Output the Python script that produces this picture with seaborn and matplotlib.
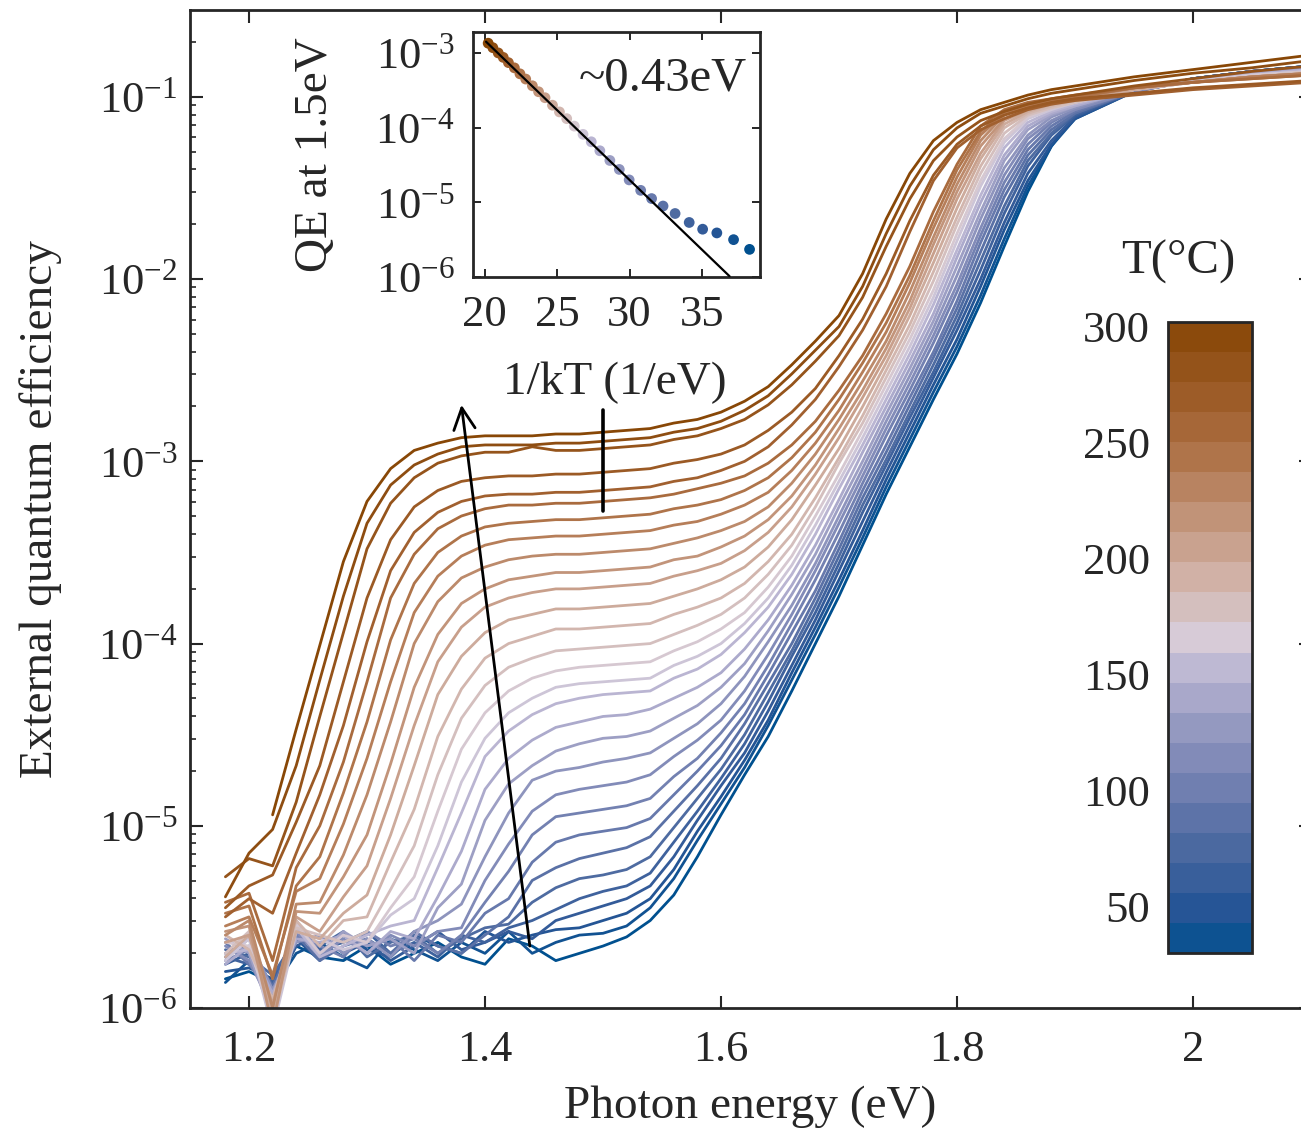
import numpy as np
import pandas as pd
import matplotlib
matplotlib.use("Agg")
import matplotlib.pyplot as plt
from matplotlib.colors import LinearSegmentedColormap, ListedColormap, BoundaryNorm
from matplotlib.cm import ScalarMappable
from matplotlib.ticker import LogLocator, NullLocator, NullFormatter
import seaborn as sns

nan = float("nan")

# ------------------------------------------------------------------ data
energy_ev = [1.18, 1.20, 1.22, 1.24, 1.26, 1.28, 1.30, 1.32, 1.34, 1.36,
             1.38, 1.40, 1.42, 1.44, 1.46, 1.48, 1.50, 1.52, 1.54, 1.56,
             1.58, 1.60, 1.62, 1.64, 1.66, 1.68, 1.70, 1.72, 1.74, 1.76,
             1.78, 1.80, 1.82, 1.84, 1.86, 1.88, 1.90, 1.95, 2.00, 2.05, 2.10]

temperatures_c = [30, 39, 49, 58, 67, 77, 86, 95, 104, 114, 123, 132, 142, 151, 160,
                  170, 179, 188, 197, 207, 216, 225, 235, 244, 253, 263, 272, 281, 291, 300]

# log10(EQE) of each temperature curve, one value per energy above
log_eqe_030 = [-5.84, -5.80, -5.86, -5.66, -5.72, -5.74, -5.66, -5.76, -5.70, -5.64,
               -5.72, -5.76, -5.62, -5.66, -5.74, -5.70, -5.66, -5.61, -5.52, -5.38,
               -5.17, -4.94, -4.72, -4.51, -4.26, -4.00, -3.74, -3.46, -3.18, -2.92,
               -2.66, -2.41, -2.13, -1.82, -1.52, -1.27, -1.10, -0.97, -0.90, -0.86, -0.83]
log_eqe_039 = [-5.86, -5.74, -5.90, -5.70, -5.64, -5.72, -5.78, -5.62, -5.68, -5.74,
               -5.64, -5.70, -5.58, -5.70, -5.64, -5.60, -5.59, -5.55, -5.45, -5.29,
               -5.08, -4.88, -4.68, -4.45, -4.20, -3.95, -3.69, -3.42, -3.14, -2.88,
               -2.62, -2.37, -2.09, -1.78, -1.49, -1.27, -1.12, -0.97, -0.90, -0.86, -0.83]
log_eqe_049 = [-5.80, -5.78, -5.84, -5.62, -5.74, -5.60, -5.68, -5.72, -5.60, -5.66,
               -5.70, -5.58, -5.64, -5.60, -5.57, -5.56, -5.52, -5.48, -5.40, -5.24,
               -5.03, -4.84, -4.64, -4.42, -4.16, -3.91, -3.65, -3.38, -3.10, -2.84,
               -2.58, -2.33, -2.04, -1.73, -1.46, -1.26, -1.12, -0.97, -0.90, -0.86, -0.83]
log_eqe_058 = [-5.76, -5.70, -5.92, -5.66, -5.60, -5.70, -5.64, -5.74, -5.66, -5.58,
               -5.68, -5.64, -5.58, -5.62, -5.52, -5.48, -5.44, -5.40, -5.33, -5.17,
               -4.97, -4.78, -4.60, -4.37, -4.12, -3.87, -3.60, -3.33, -3.06, -2.80,
               -2.54, -2.28, -2.00, -1.69, -1.42, -1.24, -1.11, -0.97, -0.90, -0.86, -0.83]
log_eqe_067 = [-5.72, -5.76, -5.86, -5.58, -5.68, -5.64, -5.58, -5.70, -5.64, -5.72,
               -5.60, -5.64, -5.56, -5.52, -5.46, -5.40, -5.36, -5.33, -5.26, -5.09,
               -4.92, -4.74, -4.55, -4.32, -4.07, -3.83, -3.56, -3.28, -3.02, -2.76,
               -2.51, -2.24, -1.95, -1.64, -1.38, -1.21, -1.10, -0.97, -0.90, -0.86, -0.83]
log_eqe_077 = [-5.68, -5.72, -5.82, -5.62, -5.66, -5.58, -5.72, -5.64, -5.60, -5.70,
               -5.62, -5.56, -5.54, -5.42, -5.34, -5.29, -5.27, -5.24, -5.17, -5.01,
               -4.85, -4.69, -4.50, -4.27, -4.04, -3.79, -3.52, -3.24, -2.99, -2.73,
               -2.47, -2.20, -1.90, -1.60, -1.35, -1.20, -1.09, -0.97, -0.90, -0.86, -0.84]
log_eqe_086 = [-5.70, -5.66, -5.88, -5.60, -5.74, -5.66, -5.62, -5.70, -5.58, -5.66,
               -5.70, -5.60, -5.50, -5.30, -5.23, -5.18, -5.15, -5.12, -5.06, -4.92,
               -4.78, -4.63, -4.44, -4.22, -4.00, -3.75, -3.48, -3.20, -2.95, -2.69,
               -2.43, -2.16, -1.85, -1.55, -1.32, -1.18, -1.09, -0.97, -0.91, -0.86, -0.84]
log_eqe_095 = [-5.64, -5.76, -5.92, -5.56, -5.70, -5.60, -5.66, -5.62, -5.74, -5.60,
               -5.64, -5.48, -5.40, -5.20, -5.09, -5.05, -5.03, -5.01, -4.96, -4.83,
               -4.70, -4.56, -4.39, -4.17, -3.94, -3.71, -3.44, -3.16, -2.91, -2.65,
               -2.40, -2.12, -1.80, -1.51, -1.29, -1.16, -1.08, -0.97, -0.91, -0.86, -0.84]
log_eqe_104 = [-5.74, -5.68, -5.96, -5.60, -5.66, -5.72, -5.58, -5.66, -5.62, -5.70,
               -5.60, -5.42, -5.25, -5.05, -4.95, -4.93, -4.91, -4.89, -4.85, -4.73,
               -4.63, -4.49, -4.33, -4.12, -3.89, -3.65, -3.39, -3.12, -2.86, -2.61,
               -2.35, -2.07, -1.76, -1.47, -1.26, -1.14, -1.07, -0.97, -0.91, -0.86, -0.84]
log_eqe_114 = [-5.66, -5.74, -6.00, -5.58, -5.72, -5.62, -5.70, -5.60, -5.66, -5.58,
               -5.56, -5.30, -5.10, -4.92, -4.83, -4.80, -4.78, -4.76, -4.72, -4.62,
               -4.53, -4.42, -4.26, -4.06, -3.84, -3.60, -3.34, -3.08, -2.82, -2.57,
               -2.31, -2.03, -1.72, -1.43, -1.23, -1.13, -1.07, -0.97, -0.91, -0.87, -0.84]
log_eqe_123 = [-5.72, -5.62, -5.90, -5.64, -5.60, -5.70, -5.62, -5.72, -5.58, -5.52,
               -5.43, -5.17, -4.93, -4.75, -4.70, -4.68, -4.65, -4.63, -4.60, -4.52,
               -4.44, -4.33, -4.18, -3.99, -3.79, -3.56, -3.30, -3.04, -2.78, -2.53,
               -2.27, -1.98, -1.67, -1.39, -1.21, -1.11, -1.06, -0.96, -0.91, -0.87, -0.84]
log_eqe_132 = [-5.62, -5.70, -6.05, -5.52, -5.70, -5.58, -5.66, -5.62, -5.70, -5.45,
               -5.32, -4.97, -4.77, -4.67, -4.59, -4.55, -4.52, -4.51, -4.48, -4.41,
               -4.34, -4.24, -4.11, -3.93, -3.73, -3.51, -3.25, -3.00, -2.74, -2.49,
               -2.23, -1.93, -1.63, -1.35, -1.18, -1.10, -1.05, -0.96, -0.91, -0.87, -0.85]
log_eqe_142 = [-5.76, -5.66, -5.92, -5.62, -5.64, -5.60, -5.70, -5.58, -5.62, -5.39,
               -5.14, -4.80, -4.63, -4.53, -4.46, -4.43, -4.40, -4.39, -4.36, -4.30,
               -4.24, -4.16, -4.03, -3.87, -3.68, -3.46, -3.21, -2.95, -2.70, -2.45,
               -2.19, -1.88, -1.58, -1.32, -1.16, -1.09, -1.05, -0.96, -0.91, -0.87, -0.85]
log_eqe_151 = [-5.70, -5.68, -6.00, -5.56, -5.72, -5.66, -5.60, -5.55, -5.52, -5.23,
               -4.93, -4.62, -4.48, -4.39, -4.33, -4.30, -4.28, -4.27, -4.26, -4.19,
               -4.14, -4.06, -3.94, -3.80, -3.62, -3.40, -3.15, -2.91, -2.66, -2.41,
               -2.14, -1.84, -1.54, -1.28, -1.14, -1.08, -1.04, -0.96, -0.91, -0.88, -0.85]
log_eqe_160 = [-5.74, -5.62, -6.12, -5.58, -5.62, -5.68, -5.64, -5.49, -5.40, -5.11,
               -4.76, -4.52, -4.38, -4.30, -4.24, -4.22, -4.21, -4.20, -4.19, -4.12,
               -4.07, -4.00, -3.89, -3.75, -3.57, -3.35, -3.11, -2.87, -2.62, -2.37,
               -2.10, -1.79, -1.49, -1.25, -1.12, -1.07, -1.03, -0.96, -0.91, -0.88, -0.86]
log_eqe_170 = [-5.64, -5.66, -6.04, -5.54, -5.70, -5.60, -5.64, -5.45, -5.28, -4.92,
               -4.58, -4.38, -4.26, -4.19, -4.15, -4.13, -4.12, -4.11, -4.10, -4.04,
               -3.99, -3.92, -3.83, -3.69, -3.52, -3.30, -3.07, -2.83, -2.58, -2.33,
               -2.06, -1.75, -1.46, -1.23, -1.11, -1.06, -1.03, -0.96, -0.92, -0.88, -0.86]
log_eqe_179 = [-5.70, -5.58, -6.08, -5.56, -5.60, -5.64, -5.58, -5.35, -5.11, -4.72,
               -4.41, -4.23, -4.13, -4.08, -4.04, -4.03, -4.02, -4.01, -4.00, -3.95,
               -3.90, -3.84, -3.75, -3.62, -3.46, -3.25, -3.01, -2.79, -2.54, -2.29,
               -2.01, -1.70, -1.42, -1.20, -1.10, -1.06, -1.03, -0.96, -0.92, -0.89, -0.86]
log_eqe_188 = [-5.60, -5.68, -5.95, -5.52, -5.66, -5.52, -5.50, -5.20, -4.91, -4.51,
               -4.25, -4.08, -4.00, -3.96, -3.92, -3.92, -3.91, -3.90, -3.89, -3.84,
               -3.80, -3.75, -3.67, -3.55, -3.40, -3.20, -2.98, -2.75, -2.50, -2.25,
               -1.96, -1.66, -1.38, -1.17, -1.09, -1.05, -1.02, -0.96, -0.92, -0.89, -0.87]
log_eqe_197 = [-5.72, -5.60, -6.02, -5.58, -5.62, -5.48, -5.38, -5.05, -4.67, -4.28,
               -4.07, -3.94, -3.87, -3.84, -3.81, -3.81, -3.80, -3.79, -3.78, -3.74,
               -3.70, -3.65, -3.58, -3.47, -3.32, -3.13, -2.93, -2.70, -2.46, -2.20,
               -1.91, -1.61, -1.34, -1.15, -1.08, -1.04, -1.02, -0.96, -0.92, -0.89, -0.87]
log_eqe_207 = [-5.64, -5.60, -5.98, -5.50, -5.58, -5.39, -5.22, -4.85, -4.45, -4.10,
               -3.91, -3.80, -3.75, -3.72, -3.70, -3.70, -3.69, -3.68, -3.67, -3.63,
               -3.60, -3.56, -3.49, -3.39, -3.25, -3.07, -2.87, -2.65, -2.42, -2.16,
               -1.86, -1.56, -1.31, -1.13, -1.07, -1.04, -1.01, -0.95, -0.92, -0.89, -0.87]
log_eqe_216 = [-5.58, -5.55, -6.10, -5.47, -5.48, -5.28, -5.05, -4.66, -4.24, -3.95,
               -3.78, -3.70, -3.65, -3.63, -3.61, -3.61, -3.60, -3.59, -3.58, -3.54,
               -3.52, -3.47, -3.41, -3.32, -3.19, -3.02, -2.82, -2.61, -2.38, -2.12,
               -1.81, -1.52, -1.27, -1.12, -1.06, -1.03, -1.01, -0.95, -0.92, -0.89, -0.87]
log_eqe_225 = [-5.60, -5.52, -6.00, -5.43, -5.42, -5.16, -4.83, -4.43, -4.00, -3.77,
               -3.64, -3.58, -3.54, -3.52, -3.51, -3.51, -3.50, -3.49, -3.48, -3.45,
               -3.42, -3.38, -3.33, -3.25, -3.12, -2.96, -2.77, -2.56, -2.34, -2.07,
               -1.77, -1.48, -1.24, -1.10, -1.05, -1.02, -1.00, -0.95, -0.92, -0.89, -0.87]
log_eqe_235 = [-5.55, -5.50, -5.82, -5.36, -5.29, -4.99, -4.63, -4.21, -3.83, -3.63,
               -3.52, -3.46, -3.43, -3.42, -3.41, -3.41, -3.40, -3.39, -3.38, -3.35,
               -3.33, -3.29, -3.24, -3.17, -3.05, -2.90, -2.72, -2.51, -2.29, -2.02,
               -1.72, -1.44, -1.21, -1.09, -1.05, -1.02, -1.00, -0.95, -0.92, -0.89, -0.87]
log_eqe_244 = [-5.48, -5.44, -5.84, -5.33, -5.17, -4.82, -4.43, -3.98, -3.67, -3.50,
               -3.41, -3.36, -3.34, -3.33, -3.32, -3.32, -3.31, -3.30, -3.29, -3.26,
               -3.24, -3.21, -3.16, -3.09, -2.98, -2.84, -2.66, -2.46, -2.24, -1.98,
               -1.68, -1.40, -1.19, -1.08, -1.04, -1.02, -1.00, -0.95, -0.92, -0.90, -0.88]
log_eqe_253 = [-5.42, -5.37, -5.74, -5.23, -5.00, -4.65, -4.21, -3.75, -3.51, -3.37,
               -3.30, -3.26, -3.24, -3.24, -3.23, -3.23, -3.22, -3.21, -3.20, -3.18,
               -3.15, -3.12, -3.08, -3.01, -2.91, -2.78, -2.61, -2.42, -2.19, -1.93,
               -1.63, -1.37, -1.16, -1.07, -1.03, -1.01, -0.99, -0.95, -0.92, -0.90, -0.88]
log_eqe_263 = [-5.50, -5.40, -5.48, -5.15, -4.83, -4.45, -3.99, -3.60, -3.39, -3.28,
               -3.22, -3.19, -3.18, -3.18, -3.17, -3.17, -3.16, -3.15, -3.14, -3.11,
               -3.09, -3.05, -3.00, -2.92, -2.80, -2.66, -2.48, -2.28, -2.04, -1.74,
               -1.46, -1.28, -1.18, -1.12, -1.07, -1.04, -1.02, -0.99, -0.96, -0.94, -0.92]
log_eqe_272 = [-5.45, -5.33, -5.27, -4.98, -4.67, -4.21, -3.75, -3.43, -3.25, -3.16,
               -3.11, -3.09, -3.08, -3.08, -3.07, -3.07, -3.06, -3.05, -3.04, -3.01,
               -2.99, -2.96, -2.91, -2.83, -2.73, -2.60, -2.42, -2.22, -1.97, -1.68,
               -1.43, -1.26, -1.16, -1.10, -1.06, -1.03, -1.01, -0.98, -0.95, -0.93, -0.91]
log_eqe_281 = [-5.28, -5.18, -5.22, -4.87, -4.40, -3.94, -3.48, -3.23, -3.09, -3.01,
               -2.97, -2.95, -2.95, -2.92, -2.94, -2.94, -2.93, -2.92, -2.91, -2.88,
               -2.86, -2.82, -2.77, -2.69, -2.58, -2.45, -2.31, -2.10, -1.82, -1.56,
               -1.35, -1.22, -1.13, -1.08, -1.04, -1.01, -0.99, -0.94, -0.90, -0.86, -0.83]
log_eqe_291 = [-5.39, -5.15, -5.02, -4.67, -4.20, -3.74, -3.34, -3.13, -3.02, -2.96,
               -2.92, -2.91, -2.91, -2.91, -2.90, -2.90, -2.89, -2.88, -2.87, -2.84,
               -2.82, -2.78, -2.72, -2.64, -2.52, -2.39, -2.26, -2.04, -1.75, -1.49,
               -1.29, -1.17, -1.09, -1.05, -1.01, -0.98, -0.96, -0.91, -0.87, -0.84, -0.80]
log_eqe_300 = [nan, nan, -4.94, -4.47, -4.01, -3.55, -3.22, -3.04, -2.94, -2.90,
               -2.87, -2.86, -2.86, -2.86, -2.85, -2.85, -2.84, -2.83, -2.82, -2.79,
               -2.77, -2.73, -2.67, -2.59, -2.47, -2.34, -2.20, -1.97, -1.67, -1.42,
               -1.24, -1.14, -1.07, -1.03, -0.99, -0.96, -0.94, -0.89, -0.85, -0.81, -0.77]

# inset: log10(QE at 1.5 eV) for each temperature (same order as temperatures_c)
inset_log_qe = [-5.63, -5.50, -5.41, -5.36, -5.27, -5.15, -5.05, -4.95, -4.84, -4.70,
                -4.56, -4.44, -4.31, -4.19, -4.09, -3.98, -3.88, -3.79, -3.70, -3.60,
                -3.52, -3.44, -3.35, -3.28, -3.20, -3.13, -3.06, -3.00, -2.93, -2.87]
fit_inv_kt = [20.1, 36.9]
fit_log_qe = [-2.85, -5.99]

x_tick_values = [1.2, 1.4, 1.6, 1.8, 2.0]
x_tick_labels = ["1.2", "1.4", "1.6", "1.8", "2"]
inset_x_ticks = [20, 25, 30, 35]
cbar_ticks = [50, 100, 150, 200, 250, 300]

curves = [log_eqe_030, log_eqe_039, log_eqe_049, log_eqe_058, log_eqe_067, log_eqe_077,
          log_eqe_086, log_eqe_095, log_eqe_104, log_eqe_114, log_eqe_123, log_eqe_132,
          log_eqe_142, log_eqe_151, log_eqe_160, log_eqe_170, log_eqe_179, log_eqe_188,
          log_eqe_197, log_eqe_207, log_eqe_216, log_eqe_225, log_eqe_235, log_eqe_244,
          log_eqe_253, log_eqe_263, log_eqe_272, log_eqe_281, log_eqe_291, log_eqe_300]

# ------------------------------------------------------------------ style
sns.set_style("ticks")
plt.rcParams.update({
    "font.family": ["Liberation Serif", "DejaVu Serif"],
    "mathtext.fontset": "custom",
    "mathtext.rm": "Liberation Serif",
    "mathtext.it": "Liberation Serif:italic",
    "mathtext.bf": "Liberation Serif:bold",
    "axes.unicode_minus": True,
})

T_MIN, T_MAX = 30, 302
cmap = LinearSegmentedColormap.from_list("bluebrown", [
    (0.000, "#00508F"),
    (0.074, "#285596"),
    (0.165, "#4B69A0"),
    (0.257, "#6E7DAF"),
    (0.349, "#9196BE"),
    (0.441, "#B9B4D2"),
    (0.496, "#D7CDDA"),
    (0.588, "#D2B4AA"),
    (0.680, "#C3967D"),
    (0.772, "#B27850"),
    (0.864, "#A05F2D"),
    (1.000, "#874605"),
])

# long-form table
rows = []
for t, vals in zip(temperatures_c, curves):
    for e, v in zip(energy_ev, vals):
        if not np.isnan(v):
            rows.append((e, 10.0 ** v, t))
df = pd.DataFrame(rows, columns=["energy", "eqe", "T"])

inset_df = pd.DataFrame({
    "inv_kT": 11604.5 / (np.array(temperatures_c, dtype=float) + 273.15),
    "qe": 10.0 ** np.array(inset_log_qe),
    "T": temperatures_c,
})

# ------------------------------------------------------------------ figure
W, H = 1301, 1142
fig = plt.figure(figsize=(W / 100, H / 100), dpi=100)
fig.patch.set_facecolor("white")

ax = fig.add_axes([190 / W, (H - 1008) / H, 1121 / W, 998 / H])
ax.set_yscale("log")
sns.lineplot(data=df, x="energy", y="eqe", hue="T", units="T", estimator=None,
             errorbar=None, palette=cmap, hue_norm=(T_MIN, T_MAX), linewidth=2.0,
             legend=False, ax=ax)
ax.set_xlim(1.15, 2.1)
ax.set_ylim(1e-6, 10 ** -0.523)
ax.set_xticks(x_tick_values)
ax.set_xticklabels(x_tick_labels)
ax.yaxis.set_major_locator(LogLocator(base=10, numticks=12))
ax.yaxis.set_minor_locator(LogLocator(base=10, subs=np.arange(2, 10), numticks=12))
ax.yaxis.set_minor_formatter(NullFormatter())
ax.tick_params(which="both", direction="in", top=True, right=True)
ax.tick_params(which="major", length=9, width=1.5, labelsize=32)
ax.tick_params(which="minor", length=4.5, width=1.2)
ax.tick_params(axis="x", which="major", pad=16)
ax.tick_params(axis="y", which="major", pad=9)
for s in ax.spines.values():
    s.set_linewidth(2.0)
ax.set_xlabel("Photon energy (eV)", fontsize=34)
ax.set_ylabel("External quantum efficiency", fontsize=34)
ax.xaxis.set_label_coords(0.5, -0.078)
ax.yaxis.set_label_coords(-0.114, 0.5)

# arrow and 1.5 eV marker
ax.annotate("", xy=(1.380, 10 ** -2.69), xytext=(1.438, 10 ** -5.66),
            arrowprops=dict(arrowstyle="->,head_length=0.7,head_width=0.35",
                            lw=2.0, color="black", shrinkA=0, shrinkB=0,
                            mutation_scale=22))
ax.plot([1.5, 1.5], [10 ** -2.72, 10 ** -3.27], color="black", lw=2.6)

# ------------------------------------------------------------------ inset
ax_in = fig.add_axes([473 / W, (H - 277) / H, 287 / W, 245 / H])
ax_in.set_facecolor("white")
ax_in.set_yscale("log")
sns.scatterplot(data=inset_df, x="inv_kT", y="qe", hue="T", palette=cmap,
                hue_norm=(T_MIN, T_MAX), s=60, linewidth=0, legend=False,
                ax=ax_in, zorder=3)
ax_in.plot(fit_inv_kt, [10 ** v for v in fit_log_qe], color="black", lw=1.6, zorder=4)
ax_in.set_xlim(19.2, 39.0)
ax_in.set_ylim(1e-6, 10 ** -2.72)
ax_in.set_xticks(inset_x_ticks)
ax_in.yaxis.set_major_locator(LogLocator(base=10, numticks=10))
ax_in.yaxis.set_minor_locator(NullLocator())
ax_in.tick_params(which="both", direction="in", top=True, right=True)
ax_in.tick_params(which="major", length=6, width=1.4, labelsize=32)
ax_in.tick_params(axis="x", pad=13)
ax_in.tick_params(axis="y", pad=13)
for s in ax_in.spines.values():
    s.set_linewidth(2.0)
ax_in.set_xlabel("1/kT (1/eV)", fontsize=34)
ax_in.set_ylabel("QE at 1.5eV", fontsize=34)
ax_in.xaxis.set_label_coords(0.495, -0.347)
ax_in.yaxis.set_label_coords(-0.474, 0.5)
ax_in.text(38.1, 10 ** -3.34, "~0.43eV", fontsize=35, ha="right", va="center")

# ------------------------------------------------------------------ colorbar
cax = fig.add_axes([1168 / W, (H - 953) / H, 84 / W, 631 / H])
n_bands = 21
band_colors = cmap((np.arange(n_bands) + 0.5) / n_bands)
bounds = np.linspace(T_MIN, T_MAX, n_bands + 1)
sm = ScalarMappable(norm=BoundaryNorm(bounds, n_bands), cmap=ListedColormap(band_colors))
cb = fig.colorbar(sm, cax=cax, ticks=cbar_ticks)
cb.ax.minorticks_off()
cb.ax.yaxis.set_ticks_position("left")
cb.ax.tick_params(which="major", direction="in", left=True, right=True,
                  labelleft=True, labelright=False, length=7, width=1.5,
                  labelsize=32, pad=13)
cb.outline.set_linewidth(2.0)
fig.text(1178 / W, 1 - 262 / H, "T(°C)", fontsize=35, ha="center", va="center")

fig.savefig("out.png", dpi=100, facecolor="white")
